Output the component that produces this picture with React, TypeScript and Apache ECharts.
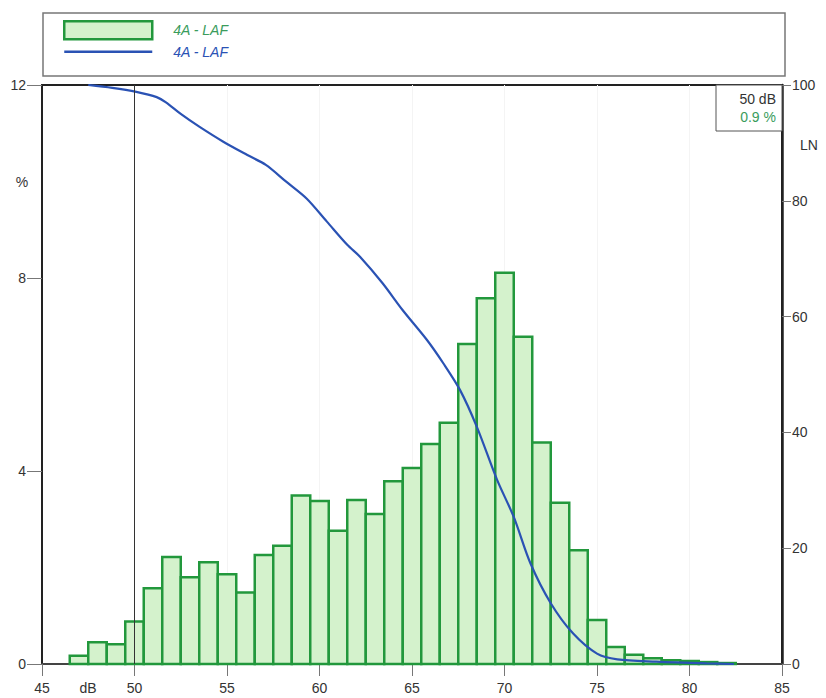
import React, { useEffect, useRef } from 'react'
import * as echarts from 'echarts'

// level (dB) of each 1 dB class, and its share of time (%)
const levels = [47, 48, 49, 50, 51, 52, 53, 54, 55, 56, 57, 58, 59, 60, 61, 62, 63, 64, 65, 66, 67, 68, 69, 70, 71, 72, 73, 74, 75, 76, 77, 78, 79, 80, 81, 82]
const shares = [0.17, 0.45, 0.41, 0.88, 1.57, 2.22, 1.8, 2.11, 1.86, 1.48, 2.26, 2.45, 3.49, 3.38, 2.76, 3.4, 3.11, 3.79, 4.06, 4.56, 5.0, 6.63, 7.58, 8.11, 6.78, 4.59, 3.34, 2.36, 0.91, 0.35, 0.19, 0.12, 0.08, 0.06, 0.04, 0.02]

// LN curve (exceeded level, %)
const lnLevels = [47.5, 48.8, 50.1, 51.2, 51.7, 52.5, 53.5, 54.8, 56.1, 57.1, 58.2, 59.3, 60.4, 61.5, 62.2, 63.4, 64.5, 65.8, 66.7, 67.6, 68.5, 69.6, 70.5, 71.4, 72.5, 73.7, 75.0, 76.1, 78.2, 80.9, 82.4]
const lnValues = [100, 99.5, 98.8, 97.9, 97.0, 95.0, 92.8, 90.2, 87.9, 86.2, 83.3, 80.4, 76.4, 72.4, 70.3, 65.8, 61.1, 56.0, 51.9, 47.3, 41.0, 31.8, 25.4, 17.4, 10.5, 5.3, 1.8, 0.8, 0.4, 0.1, 0]

const cursorLevel = 50
const cursorText = ['50 dB', '0.9 %']
const seriesLabel = '4A - LAF'

const FONT = "'Liberation Sans', Arial, sans-serif"
const BAR_FILL = '#d4f2cc'
const BAR_EDGE = '#22983c'
const LINE_COLOR = '#2a52b4'

const App = () => {
  const chartRef = useRef<HTMLDivElement>(null)

  useEffect(() => {
    if (!chartRef.current) return
    const chart = echarts.init(chartRef.current, null, { renderer: 'svg' })

    const option: echarts.EChartsOption = {
      animation: false,
      textStyle: { fontFamily: FONT },
      grid: {
        left: 42,
        right: 44,
        top: 85,
        bottom: 34,
        show: true,
        borderColor: '#222',
        borderWidth: 2,
      },
      legend: {
        orient: 'vertical',
        left: 58,
        top: 15,
        itemWidth: 88,
        itemHeight: 18,
        itemGap: 4,
        selectedMode: false,
        formatter: () => seriesLabel,
        textStyle: { fontFamily: FONT, fontSize: 14, fontStyle: 'italic', padding: [0, 0, 0, 16] },
        data: [
          {
            name: 'hist',
            icon: 'rect',
            itemStyle: { color: BAR_FILL, borderColor: BAR_EDGE, borderWidth: 2.5 },
            textStyle: { color: '#3a9c5c' },
          },
          {
            name: 'ln',
            itemStyle: { color: 'rgba(0,0,0,0)', borderWidth: 0, opacity: 0 },
            lineStyle: { color: LINE_COLOR, width: 2.5 },
            textStyle: { color: LINE_COLOR },
          },
        ],
      },
      xAxis: {
        type: 'value',
        min: 45,
        max: 85,
        interval: 5,
        axisLine: { lineStyle: { color: '#444', width: 2 } },
        axisTick: { length: 12, lineStyle: { color: '#777' } },
        axisLabel: { margin: 17, fontSize: 14, color: '#333', fontFamily: FONT },
        splitLine: { show: true, lineStyle: { color: '#f4f4f4' } },
      },
      yAxis: [
        {
          type: 'value',
          min: 0,
          max: 12,
          interval: 4,
          axisLine: { show: true, lineStyle: { color: '#222', width: 2 } },
          axisTick: { show: true, length: 15, lineStyle: { color: '#777' } },
          axisLabel: { margin: 16, fontSize: 14, color: '#333', fontFamily: FONT },
          splitLine: { show: false },
        },
        {
          type: 'value',
          min: 0,
          max: 100,
          interval: 20,
          position: 'right',
          axisLine: { show: true, lineStyle: { color: '#222', width: 2.5 } },
          axisTick: { show: true, length: 9, lineStyle: { color: '#777' } },
          axisLabel: { margin: 10, fontSize: 14, color: '#333', fontFamily: FONT },
          splitLine: { show: false },
        },
      ],
      series: [
        {
          name: 'hist',
          type: 'custom',
          xAxisIndex: 0,
          yAxisIndex: 0,
          itemStyle: { color: BAR_FILL, borderColor: BAR_EDGE, borderWidth: 2.5 },
          encode: { x: 0, y: 1 },
          data: levels.map((l, i) => [l, shares[i]]),
          renderItem: (params: any, api: any) => {
            const x = api.value(0)
            const y = api.value(1)
            const p0 = api.coord([x - 0.5, y])
            const p1 = api.coord([x + 0.5, 0])
            return {
              type: 'rect',
              shape: { x: p0[0], y: p0[1], width: p1[0] - p0[0], height: p1[1] - p0[1] },
              style: { fill: BAR_FILL, stroke: BAR_EDGE, lineWidth: 2.5 },
            }
          },
        },
        {
          name: 'ln',
          type: 'line',
          yAxisIndex: 1,
          symbol: 'none',
          smooth: 0.3,
          color: LINE_COLOR,
          lineStyle: { color: LINE_COLOR, width: 2.2 },
          data: lnLevels.map((l, i) => [l, lnValues[i]]),
          markLine: {
            silent: true,
            symbol: ['none', 'none'],
            label: { show: false },
            lineStyle: { color: '#333', width: 1, type: 'solid' },
            data: [{ xAxis: cursorLevel }],
          },
          z: 3,
        },
      ],
      graphic: [
        {
          type: 'rect',
          shape: { x: 43, y: 13, width: 742, height: 63 },
          style: { fill: 'none', stroke: '#777', lineWidth: 1.5 },
          silent: true,
        },
        {
          type: 'rect',
          shape: { x: 716, y: 85, width: 66, height: 46 },
          style: { fill: '#fff', stroke: '#555', lineWidth: 1 },
          z: 10,
        },
        {
          type: 'text',
          x: 776,
          y: 99,
          z: 11,
          style: { text: cursorText[0], fill: '#333', font: `14px ${FONT}`, align: 'right', verticalAlign: 'middle' },
        },
        {
          type: 'text',
          x: 776,
          y: 117,
          z: 11,
          style: { text: cursorText[1], fill: '#3a9c5c', font: `14px ${FONT}`, align: 'right', verticalAlign: 'middle' },
        },
        {
          type: 'text',
          x: 22,
          y: 182,
          style: { text: '%', fill: '#333', font: `14px ${FONT}`, align: 'center', verticalAlign: 'middle' },
        },
        {
          type: 'text',
          x: 809,
          y: 145,
          style: { text: 'LN', fill: '#333', font: `14px ${FONT}`, align: 'center', verticalAlign: 'middle' },
        },
        {
          type: 'text',
          x: 88,
          y: 688,
          style: { text: 'dB', fill: '#333', font: `14px ${FONT}`, align: 'center', verticalAlign: 'middle' },
        },
      ],
    }

    chart.setOption(option)
    return () => {
      chart.dispose()
    }
  }, [])

  return (
    <div
      ref={chartRef}
      style={{ position: 'absolute', left: 0, top: 0, width: 826, height: 698, background: '#fff' }}
    />
  )
}

export default App
